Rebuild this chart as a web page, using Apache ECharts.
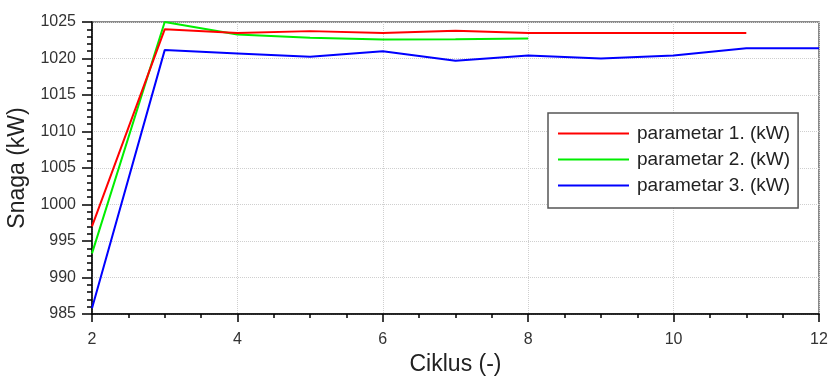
<!DOCTYPE html>
<html>
<head>
<meta charset="utf-8">
<script src="https://cdn.jsdelivr.net/npm/echarts@6/dist/echarts.min.js"></script>
<style>html,body{margin:0;padding:0;background:#fff;}#c{width:829px;height:379px;}</style>
</head>
<body>
<div id="c"></div>
<script>
const cycles1 = [2, 3, 4, 5, 6, 7, 8, 9, 10, 11];
const param1 = [997.0, 1024.0, 1023.5, 1023.75, 1023.5, 1023.8, 1023.5, 1023.5, 1023.5, 1023.5];
const cycles2 = [2, 3, 4, 5, 6, 7, 8];
const param2 = [993.3, 1025.0, 1023.3, 1022.85, 1022.6, 1022.65, 1022.75];
const cycles3 = [2, 3, 4, 5, 6, 7, 8, 9, 10, 11, 12];
const param3 = [985.8, 1021.15, 1020.7, 1020.25, 1021.0, 1019.7, 1020.4, 1020.0, 1020.4, 1021.4, 1021.4];
const seriesNames = ['parametar 1. (kW)', 'parametar 2. (kW)', 'parametar 3. (kW)'];
const seriesColors = ['#ff0000', '#00ee00', '#0000ff'];
const xTitle = 'Ciklus (-)';
const yTitle = 'Snaga (kW)';

const pairs = (xs, ys) => xs.map((x, i) => [x, ys[i]]);
const datasets = [pairs(cycles1, param1), pairs(cycles2, param2), pairs(cycles3, param3)];

const font = 'Liberation Sans, Arial, sans-serif';
const chart = echarts.init(document.getElementById('c'), null, {renderer: 'canvas'});
chart.setOption({
  animation: false,
  backgroundColor: '#ffffff',
  grid: {left: 92, right: 10, top: 22, bottom: 65, containLabel: false, outerBoundsMode: 'none',
         show: true, borderColor: '#666', borderWidth: 1.5, backgroundColor: 'transparent'},
  xAxis: {
    type: 'value', min: 2, max: 12, interval: 2,
    name: xTitle, nameLocation: 'middle', nameGap: 39,
    nameTextStyle: {fontFamily: font, fontSize: 23, color: '#222'},
    axisLine: {show: true, onZero: false, lineStyle: {color: '#000', width: 1.5}},
    axisTick: {show: true, length: 8, lineStyle: {color: '#000', width: 1.5}},
    minorTick: {show: true, splitNumber: 4, length: 4, lineStyle: {color: '#000', width: 1.5}},
    axisLabel: {fontFamily: font, fontSize: 16, color: '#333', margin: 18, formatter: v => String(v)},
    splitLine: {show: true, lineStyle: {color: '#cfcfcf', type: 'dotted', width: 1}}
  },
  yAxis: {
    type: 'value', min: 985, max: 1025, interval: 5,
    name: yTitle, nameLocation: 'middle', nameGap: 55, nameRotate: 90,
    nameTextStyle: {fontFamily: font, fontSize: 23, color: '#222'},
    axisLine: {show: true, onZero: false, lineStyle: {color: '#000', width: 1.5}},
    axisTick: {show: true, length: 10, lineStyle: {color: '#000', width: 1.5}},
    minorTick: {show: true, splitNumber: 5, length: 5, lineStyle: {color: '#000', width: 1.5}},
    axisLabel: {fontFamily: font, fontSize: 16, color: '#333', margin: 16, formatter: v => String(v)},
    splitLine: {show: true, lineStyle: {color: '#cfcfcf', type: 'dotted', width: 1}}
  },
  legend: {
    orient: 'vertical', left: 548, top: 113,
    padding: [11, 8, 13, 10], itemGap: 7,
    itemWidth: 71, itemHeight: 2, icon: 'rect',
    backgroundColor: '#fff', borderColor: '#555', borderWidth: 1.5, borderRadius: 0,
    textStyle: {fontFamily: font, fontSize: 19, color: '#222', padding: [0, 0, 0, 3], lineHeight: 19},
    data: seriesNames
  },
  series: datasets.map((d, i) => ({
    name: seriesNames[i], type: 'line', data: d, symbol: 'none',
    lineStyle: {color: seriesColors[i], width: 2}, itemStyle: {color: seriesColors[i]},
    z: 3 - i
  }))
});
</script>
</body>
</html>
